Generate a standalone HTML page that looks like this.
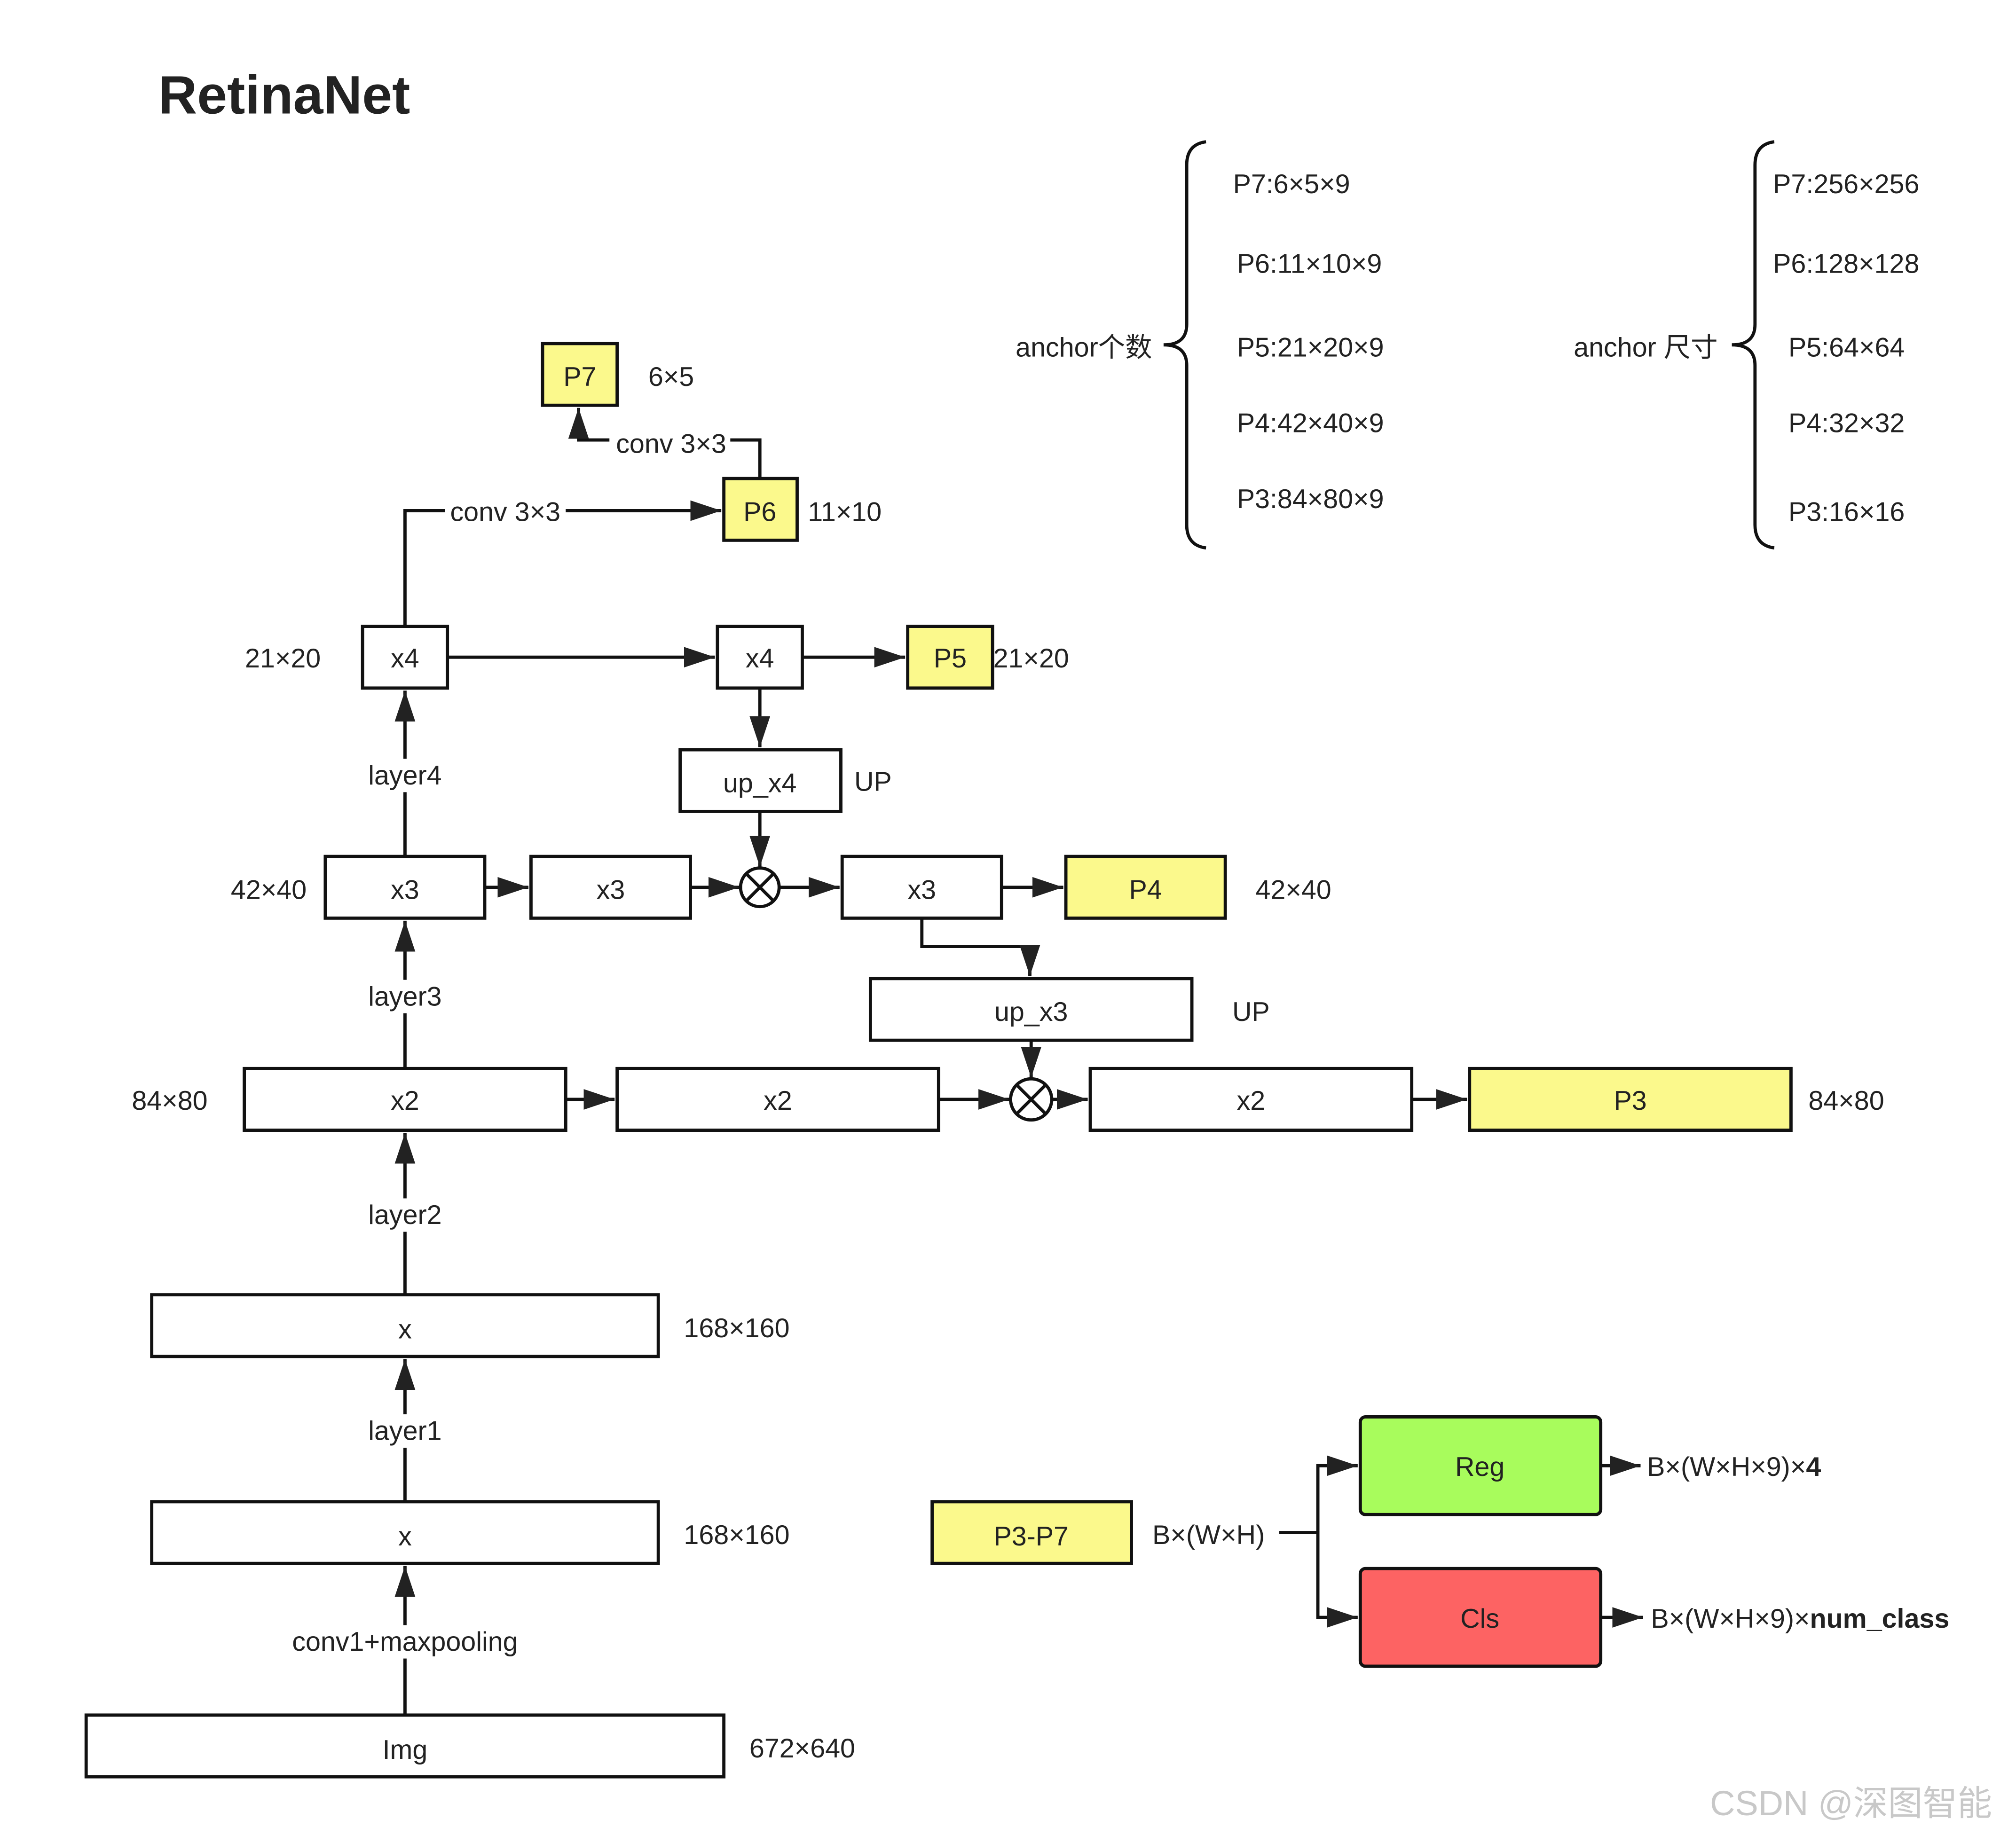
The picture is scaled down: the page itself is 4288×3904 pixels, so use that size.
<!DOCTYPE html>
<html><head><meta charset="utf-8"><style>
html,body{margin:0;padding:0;background:#fff;}
svg{display:block;}
text{font-family:"Liberation Sans","Noto Sans CJK SC",sans-serif;font-size:21px;fill:#222;}
</style></head><body>
<svg width="4288" height="3904" viewBox="0 0 1568 1427" xmlns="http://www.w3.org/2000/svg">
<defs>
<marker id="b" markerWidth="24" markerHeight="16" refX="24" refY="8" orient="auto" markerUnits="userSpaceOnUse"><path d="M0,0 L24,8 L0,16 z" fill="#222"/></marker></defs>
<rect width="1568" height="1427" fill="#fff"/>
<text x="123" y="88" style="font-size:42px;font-weight:bold;fill:#222">RetinaNet</text>
<g stroke="#111" stroke-width="2.5" fill="#fff">
<rect x="422" y="267" width="58" height="48" fill="#fbf98c"/>
<rect x="563" y="372" width="57" height="48" fill="#fbf98c"/>
<rect x="282" y="487" width="66" height="48"/>
<rect x="558" y="487" width="66" height="48"/>
<rect x="706" y="487" width="66" height="48" fill="#fbf98c"/>
<rect x="529" y="583" width="125" height="48"/>
<rect x="253" y="666" width="124" height="48"/>
<rect x="413" y="666" width="124" height="48"/>
<rect x="655" y="666" width="124" height="48"/>
<rect x="829" y="666" width="124" height="48" fill="#fbf98c"/>
<rect x="677" y="761" width="250" height="48"/>
<rect x="190" y="831" width="250" height="48"/>
<rect x="480" y="831" width="250" height="48"/>
<rect x="848" y="831" width="250" height="48"/>
<rect x="1143" y="831" width="250" height="48" fill="#fbf98c"/>
<rect x="118" y="1007" width="394" height="48"/>
<rect x="118" y="1168" width="394" height="48"/>
<rect x="67" y="1334" width="496" height="48"/>
<rect x="725" y="1168" width="155" height="48" fill="#fbf98c"/>
<rect x="1058" y="1102" width="187" height="76" rx="4" fill="#a8fc5c"/>
<rect x="1058" y="1220" width="187" height="76" rx="4" fill="#fd6363"/>
<circle cx="591" cy="690" r="15"/><path d="M580,679 L602,701 M602,679 L580,701"/>
<circle cx="802" cy="855" r="16"/><path d="M791,844 L813,866 M813,844 L791,866"/>
</g>
<g stroke="#111" stroke-width="2.5" fill="none" marker-end="url(#b)">
<path d="M591,372 V342 H450 V317"/>
<path d="M315,487 V397 H561"/>
<path d="M348,511 H556"/>
<path d="M624,511 H704"/>
<path d="M591,535 V581"/>
<path d="M591,631 V674"/>
<path d="M377,690 H411"/>
<path d="M537,690 H575"/>
<path d="M606,690 H653"/>
<path d="M779,690 H827"/>
<path d="M717,714 V736 H801 V759"/>
<path d="M802,809 V838"/>
<path d="M440,855 H478"/>
<path d="M730,855 H785"/>
<path d="M818,855 H846"/>
<path d="M1098,855 H1141"/>
<path d="M315,666 V537"/>
<path d="M315,831 V716"/>
<path d="M315,1007 V881"/>
<path d="M315,1168 V1057"/>
<path d="M315,1334 V1218"/>
<path d="M1025,1192 V1140 H1056"/>
<path d="M1025,1192 V1258 H1056"/>
<path d="M1245,1140 H1276"/>
<path d="M1245,1258 H1278"/>
</g>
<path d="M995,1192 H1025" stroke="#111" stroke-width="2.5"/>
<g fill="#fff">
<rect x="283" y="590" width="66" height="26"/><rect x="283" y="762" width="66" height="26"/><rect x="283" y="932" width="66" height="26"/><rect x="283" y="1100" width="66" height="26"/><rect x="216" y="1264" width="200" height="26"/>
<rect x="346" y="385" width="94" height="26"/><rect x="474" y="332" width="94" height="26"/>
</g>
<g text-anchor="middle">
<text x="451" y="300">P7</text><text x="591" y="405">P6</text>
<text x="315" y="519">x4</text><text x="591" y="519">x4</text><text x="739" y="519">P5</text>
<text x="591" y="616">up_x4</text>
<text x="315" y="699">x3</text><text x="475" y="699">x3</text><text x="717" y="699">x3</text><text x="891" y="699">P4</text>
<text x="802" y="794">up_x3</text>
<text x="315" y="863">x2</text><text x="605" y="863">x2</text><text x="973" y="863">x2</text><text x="1268" y="863">P3</text>
<text x="315" y="1041">x</text><text x="315" y="1202">x</text><text x="315" y="1368">Img</text>
<text x="802" y="1202">P3-P7</text><text x="1151" y="1148">Reg</text><text x="1151" y="1266">Cls</text>
<text x="315" y="610">layer4</text><text x="315" y="782">layer3</text><text x="315" y="952">layer2</text><text x="315" y="1120">layer1</text><text x="315" y="1284">conv1+maxpooling</text>
<text x="393" y="405">conv 3×3</text><text x="522" y="352">conv 3×3</text>
<text x="522" y="300">6×5</text><text x="657" y="405">11×10</text><text x="220" y="519">21×20</text><text x="802" y="519">21×20</text>
<text x="679" y="615">UP</text><text x="973" y="794">UP</text>
<text x="209" y="699">42×40</text><text x="1006" y="699">42×40</text>
<text x="132" y="863">84×80</text><text x="1436" y="863">84×80</text>
<text x="573" y="1040">168×160</text><text x="573" y="1201">168×160</text><text x="624" y="1367">672×640</text>
<text x="940" y="1201">B×(W×H)</text>
<text x="843" y="277">anchor个数</text><text x="1280" y="277">anchor 尺寸</text>
</g>
<text x="1281" y="1148">B×(W×H×9)×<tspan font-weight="bold">4</tspan></text>
<text x="1284" y="1266">B×(W×H×9)×<tspan font-weight="bold">num_class</tspan></text>
<g stroke="#111" stroke-width="2.5" fill="none">
<path d="M938,110 Q923,112 923,128 V252 Q923,268 905,268 Q923,268 923,284 V408 Q923,424 938,426"/>
<path d="M1380,110 Q1365,112 1365,128 V252 Q1365,268 1347,268 Q1365,268 1365,284 V408 Q1365,424 1380,426"/>
</g>
<text x="959" y="150">P7:6×5×9</text><text x="962" y="212">P6:11×10×9</text><text x="962" y="277">P5:21×20×9</text><text x="962" y="336">P4:42×40×9</text><text x="962" y="395">P3:84×80×9</text>
<text x="1379" y="150">P7:256×256</text><text x="1379" y="212">P6:128×128</text><text x="1391" y="277">P5:64×64</text><text x="1391" y="336">P4:32×32</text><text x="1391" y="405">P3:16×16</text>
<text x="1330" y="1412" style="font-size:27px;fill:#c8c8c8">CSDN @深图智能</text>
</svg>
</body></html>
